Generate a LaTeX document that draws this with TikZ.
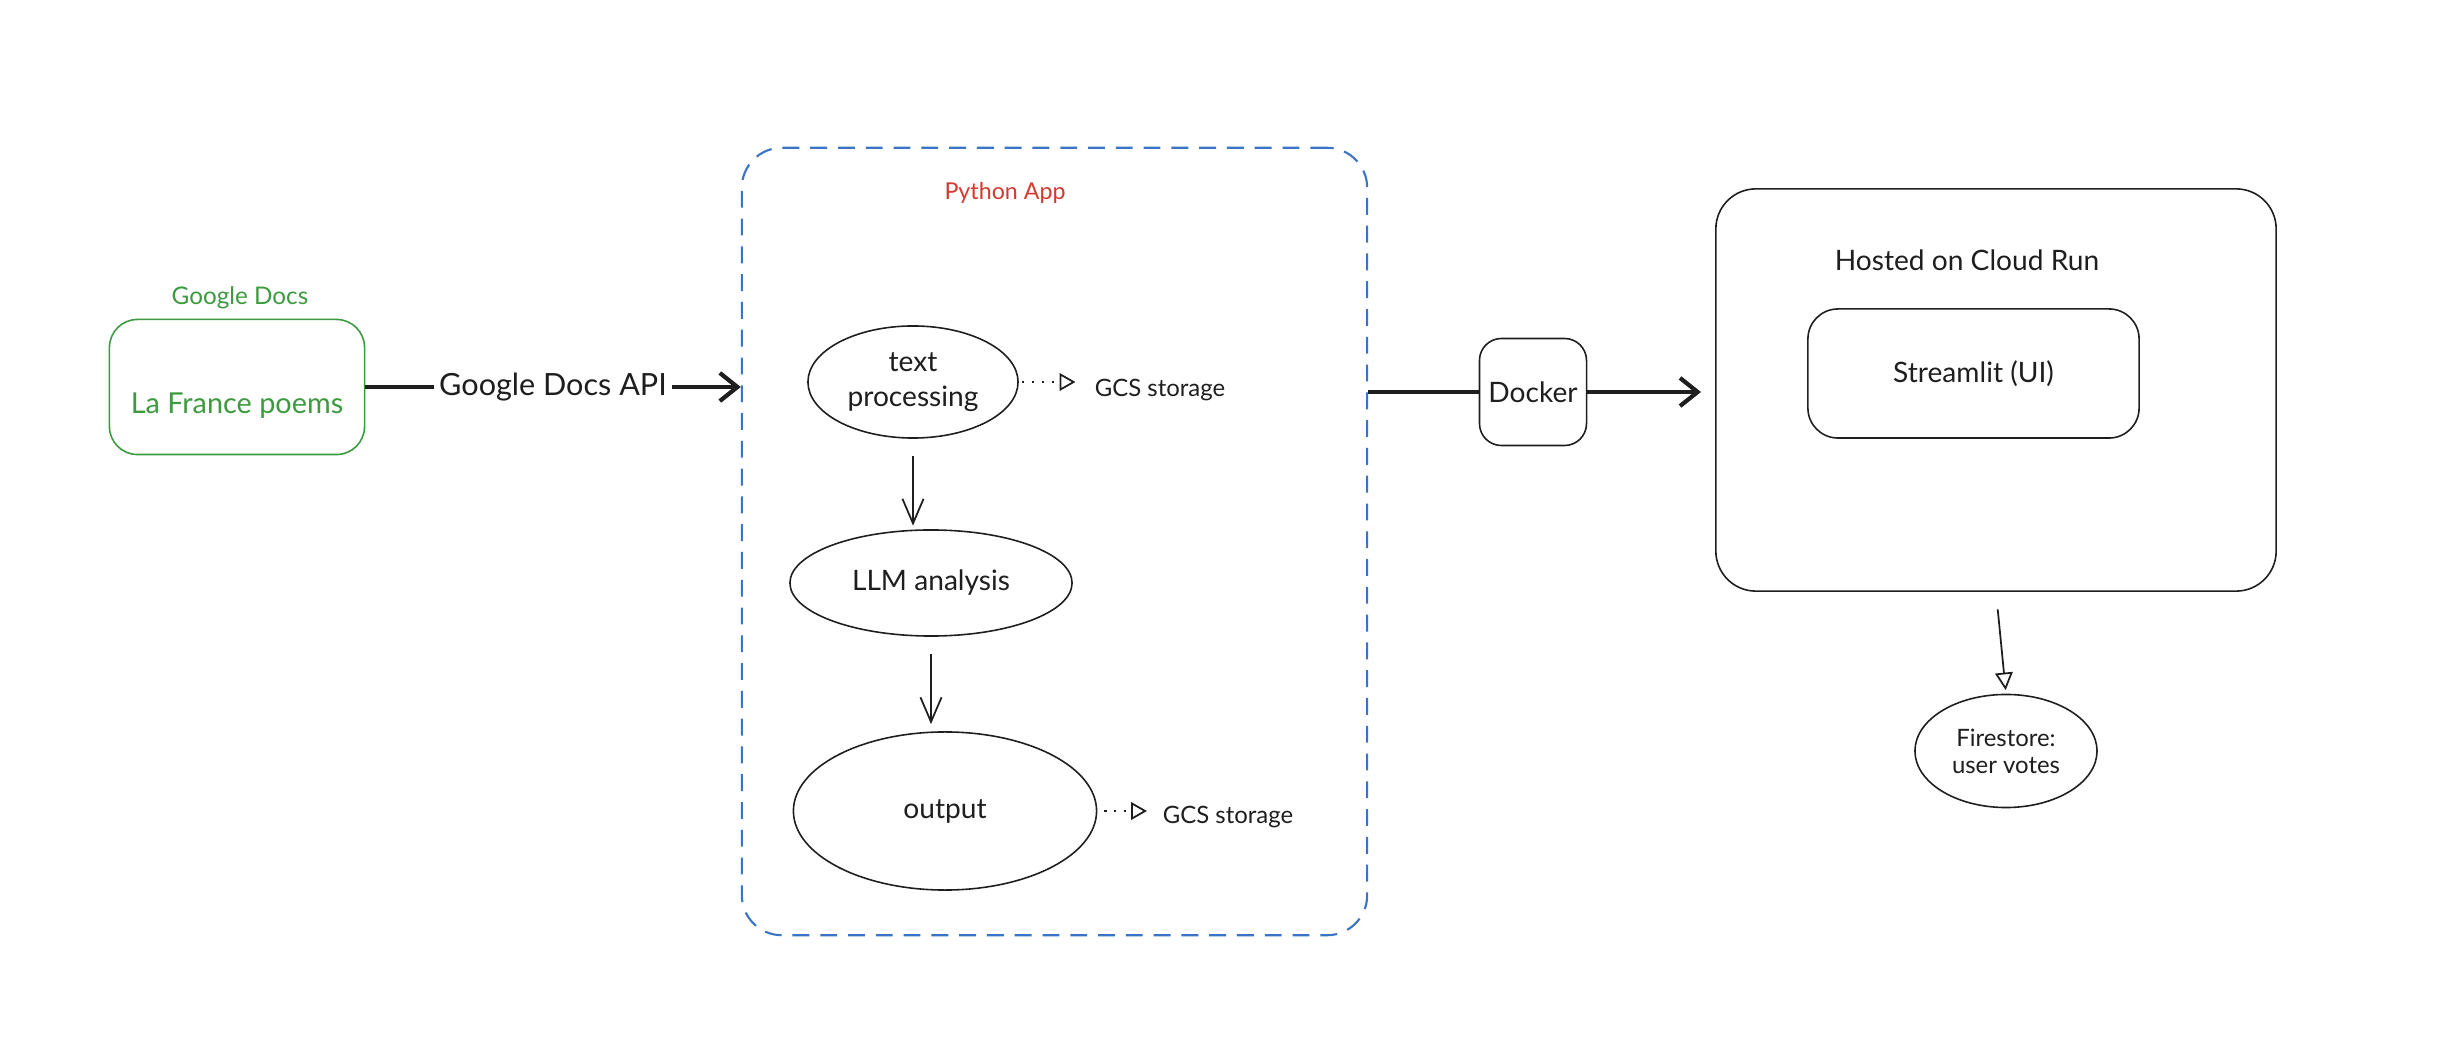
\documentclass[tikz,border=0pt]{standalone}
\usepackage{fontspec}
\setmainfont{Lato}
\usetikzlibrary{arrows.meta,shapes.geometric,calc}
\definecolor{gdgreen}{HTML}{3C9A3F}
\definecolor{pyred}{HTML}{D23A30}
\definecolor{pyblue}{HTML}{3A74C4}
\definecolor{ink}{HTML}{1E1E1E}
\tikzset{
  box/.style={draw=ink, line width=0.45pt, rectangle, inner sep=0pt},
  oval/.style={draw=ink, line width=0.45pt, ellipse, inner sep=0pt, align=center},
  txt/.style={font=\fontsize{8}{9.9}\selectfont, text=ink},
  small/.style={font=\fontsize{6.8}{7.7}\selectfont, text=ink, align=center},
  thickflow/.style={draw=ink, line width=1.3pt},
  thickarrow/.style={thickflow, -{Straight Barb[length=5pt,width=8pt,line width=1.2pt]}},
  thinarrow/.style={draw=ink, line width=0.5pt, -{Straight Barb[length=7pt,width=6pt,line width=0.5pt]}},
  dotarrow/.style={draw=ink, line width=0.5pt, dash pattern=on 0.6pt off 2.2pt, -{Triangle[open,length=4.5pt,width=5pt,line width=0.5pt]}},
  openarrow/.style={draw=ink, line width=0.5pt, -{Triangle[open,length=5pt,width=5pt,line width=0.5pt]}}
}
\begin{document}
\begin{tikzpicture}[x=0.01cm,y=-0.01cm]
\useasboundingbox (0,0) rectangle (2444,1046);
% Google Docs source
\node[txt, font=\fontsize{6.9}{8}\selectfont, text=gdgreen] (gdlabel) at (240,298) {Google Docs};
\node[box, draw=gdgreen, rounded corners=0.28cm, minimum width=2.55cm, minimum height=1.35cm,
      txt, text=gdgreen, font=\fontsize{8.2}{10}\selectfont] (gdocs) at (237,387) {\raisebox{-0.93em}[0pt][0pt]{La France poems}};
% Python App container
\node[rectangle, draw=pyblue, line width=0.6pt, dash pattern=on 4.8pt off 3.1pt, rounded corners=0.4cm,
      minimum width=6.25cm, minimum height=7.87cm] (pyapp) at (1054.5,541.5) {};
\node[txt, font=\fontsize{6.6}{8}\selectfont, text=pyred] (pylabel) at (1005,193) {Python App};
\node[oval, txt, minimum width=2.10cm, minimum height=1.12cm] (tp) at (913,382) {text\\processing};
\node[small] (gcs1) at (1160,390) {GCS storage};
\node[oval, txt, minimum width=2.82cm, minimum height=1.06cm] (llm) at (931,583) {LLM analysis};
\node[oval, txt, minimum width=3.03cm, minimum height=1.58cm] (out) at (945,811) {output};
\node[small] (gcs2) at (1228,817) {GCS storage};
% Docker and Cloud Run
\node[box, rounded corners=0.22cm, minimum width=1.07cm, minimum height=1.07cm, txt] (docker) at (1533,392) {Docker};
\node[box, rounded corners=0.4cm, minimum width=5.60cm, minimum height=4.02cm] (cloud) at (1996,390) {};
\node[txt] (cloudlabel) at (1967,260) {Hosted on Cloud Run};
\node[box, rounded corners=0.3cm, minimum width=3.31cm, minimum height=1.29cm, txt] (streamlit) at (1973.5,373.5) {Streamlit (UI)};
\node[oval, small, minimum width=1.82cm, minimum height=1.13cm] (fire) at (2006,751) {Firestore:\\user votes};
% connectors
\draw[thickarrow] (gdocs.east) -- (gdocs.east -| pyapp.west)
  node[midway, fill=white, inner sep=1.5pt, txt, font=\fontsize{8.7}{10}\selectfont] (apilabel) {Google Docs API};
\draw[thinarrow, shorten <=5pt, shorten >=1pt] (tp.south) -- (tp.south |- llm.north);
\draw[thinarrow, shorten <=5pt, shorten >=2pt] (llm.south) -- (llm.south |- out.north);
\draw[dotarrow, shorten <=1pt, shorten >=2pt] (tp.east) -- (gcs1.west |- tp.east);
\draw[dotarrow, shorten <=2pt, shorten >=1pt] (out.east) -- (gcs2.west |- out.east);
\draw[thickflow] (docker.west -| pyapp.east) -- (docker.west);
\draw[thickarrow, shorten >=4pt] (docker.east) -- (docker.east -| cloud.west);
\draw[openarrow, shorten <=5pt, shorten >=1pt] (cloud.south) -- (fire.north);
\end{tikzpicture}
\end{document}
